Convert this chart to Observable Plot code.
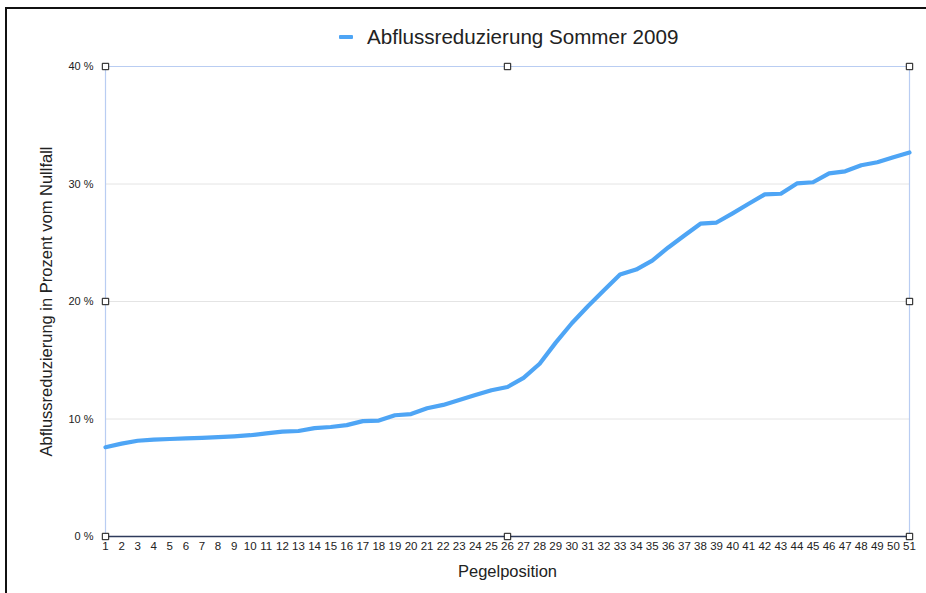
<!DOCTYPE html>
<html>
<head>
<meta charset="utf-8">
<script src="https://cdn.jsdelivr.net/npm/d3@7"></script>
<script src="https://cdn.jsdelivr.net/npm/@observablehq/plot@0.6"></script>
<style>
  html, body { margin: 0; padding: 0; background: #fff; overflow: hidden; }
  #wrap { position: relative; width: 926px; height: 593px; overflow: hidden; font-family: "Liberation Sans", Arial, sans-serif; }
  #legend { position: absolute; top: 24px; left: 339px; height: 26px; display: flex; align-items: center; font-size: 20.6px; color: #222; white-space: nowrap; }
  #legend .swatch { display: inline-block; width: 14px; height: 4px; background: #4ea5f5; margin-right: 14px; border-radius: 1px; }
  #chart svg { display: block; }
</style>
</head>
<body>
<div id="wrap">
  <div id="chart"></div>
  <div id="legend"><span class="swatch"></span><span id="legend-label"></span></div>
</div>
<script>
// Pegelpositionen 1–51 and runoff reduction (percent of baseline), summer 2009
const seriesName = "Abflussreduzierung Sommer 2009";
const positions = d3.range(1, 52);
const reduction = [
  7.6, 7.9, 8.15, 8.25, 8.3, 8.35, 8.4, 8.45, 8.52, 8.62,
  8.78, 8.92, 8.98, 9.22, 9.32, 9.48, 9.82, 9.87, 10.32, 10.42,
  10.92, 11.2, 11.62, 12.05, 12.45, 12.72, 13.5, 14.7, 16.5, 18.15,
  19.6, 20.95, 22.3, 22.72, 23.48, 24.6, 25.62, 26.62, 26.72, 27.5,
  28.32, 29.12, 29.17, 30.05, 30.15, 30.9, 31.08, 31.6, 31.85, 32.27,
  32.68
];
const yTicks = [0, 10, 20, 30, 40];
const gridValues = [10, 20, 30];
const xTitle = "Pegelposition";
const yTitle = "Abflussreduzierung in Prozent vom Nullfall";

// Selection handles at the corners and edge midpoints of the plot area
const handleX = [1, 26, 51];
const handleY = [0, 20, 40];

const data = positions.map((p, i) => ({position: p, value: reduction[i]}));
const handles = handleX.flatMap(x => handleY.map(y => ({x, y}))).filter(d => !(d.x === 26 && d.y === 20));

document.getElementById("legend-label").textContent = seriesName;

const chart = Plot.plot({
  width: 926,
  height: 593,
  marginTop: 66,
  marginLeft: 105,
  marginRight: 17,
  marginBottom: 57,
  style: {fontFamily: "Liberation Sans, Arial, sans-serif", background: "transparent", maxWidth: "none"},
  x: {domain: [1, 51]},
  y: {domain: [0, 40]},
  marks: [
    Plot.ruleY(gridValues, {stroke: "#e4e4e4", strokeWidth: 1}),
    Plot.ruleY([40], {stroke: "#b9cdf2", strokeWidth: 1.2}),
    Plot.ruleX([1, 51], {stroke: "#b9cdf2", strokeWidth: 1.2}),
    Plot.ruleY([0], {stroke: "#2e3b5c", strokeWidth: 1.6}),
    Plot.axisY({ticks: yTicks, tickSize: 0, tickPadding: 12, tickFormat: d => `${d} %`, fontSize: 11, fill: "#222", label: null}),
    Plot.axisX({ticks: positions, tickSize: 0, tickPadding: 5, tickFormat: d => `${d}`, fontSize: 11.5, fill: "#222", label: null}),
    Plot.line(data, {x: "position", y: "value", stroke: "#4ea5f5", strokeWidth: 4.2, strokeLinejoin: "round", strokeLinecap: "round"}),
    Plot.dot(handles, {x: "x", y: "y", symbol: "square", r: 3.6, fill: "white", stroke: "#111", strokeWidth: 1}),
    Plot.text([xTitle], {frameAnchor: "bottom", dy: 40, fontSize: 16.5, fill: "#222"}),
    Plot.text([yTitle], {frameAnchor: "left", dx: -59, rotate: -90, textAnchor: "middle", fontSize: 16.5, fill: "#222"})
  ]
});

// Outer page frame: a dark line along the top and the left edge only
const svg = d3.select(chart);
svg.append("path")
  .attr("d", "M6,600 V8 H940")
  .attr("fill", "none")
  .attr("stroke", "#111")
  .attr("stroke-width", 2);

document.getElementById("chart").appendChild(chart);
</script>
</body>
</html>
